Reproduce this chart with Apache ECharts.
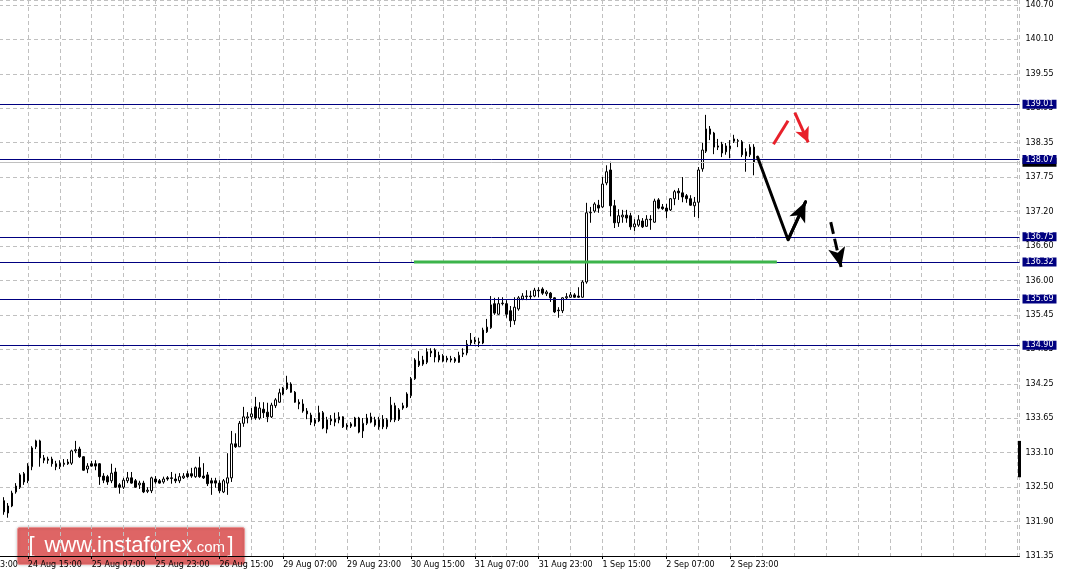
<!DOCTYPE html>
<html><head><meta charset="utf-8">
<script src="https://cdn.jsdelivr.net/npm/echarts@6/dist/echarts.min.js"></script>
<style>html,body{margin:0;padding:0;background:#fff;overflow:hidden;width:1069px;height:578px;position:relative}#c{position:absolute;left:-39px;top:0;width:1108px;height:578px}</style>
</head><body><div id="c"></div>
<script>
// ---- data (H1 bars, index 0 = 23 Aug 23:00) ----
const firstBar = 10;
const opens = [
132.25,132.04,132.16,132.40,132.48,132.71,132.59,132.83,133.17,133.27,
132.98,132.96,132.96,132.88,132.83,132.87,132.91,132.89,133.10,133.13,
133.00,132.79,132.88,132.88,132.88,132.67,132.66,132.59,132.74,132.52,
132.48,132.59,132.64,132.59,132.52,132.55,132.41,132.42,132.62,132.59,
132.57,132.64,132.64,132.62,132.59,132.64,132.71,132.71,132.66,132.81,
132.67,132.69,132.59,132.59,132.55,132.40,132.55,132.64,133.22,133.17,
133.57,133.66,133.68,133.85,133.66,133.81,133.76,133.68,133.87,133.93,
134.07,134.16,134.24,134.10,133.93,133.90,133.78,133.71,133.57,133.61,
133.75,133.47,133.64,133.64,133.63,133.68,133.54,133.52,133.52,133.66,
133.44,133.57,133.59,133.63,133.63,133.64,133.51,133.63,133.87,133.64,
133.83,133.85,134.04,134.33,134.63,134.58,134.61,134.80,134.82,134.73,
134.72,134.68,134.67,134.67,134.61,134.75,134.77,134.94,134.99,134.96,
134.94,135.13,135.20,135.61,135.43,135.61,135.61,135.49,135.32,135.52,
135.69,135.73,135.74,135.74,135.84,135.86,135.78,135.79,135.71,135.50,
135.49,135.71,135.72,135.76,135.74,135.72,135.98,137.16,137.19,137.29,
137.26,137.67,137.89,137.28,136.99,137.09,137.12,137.11,136.92,136.95,
137.02,136.93,137.05,137.00,137.38,137.26,137.24,137.21,137.40,137.53,
137.50,137.45,137.40,137.28,137.34,137.91,138.21,138.59,138.52,138.30,
138.33,138.30,138.25,138.38,138.38,138.37,138.20,138.15,138.28];
const closes = [
132.06,132.16,132.38,132.50,132.69,132.57,132.84,133.15,133.27,132.98,
132.94,132.94,132.88,132.83,132.89,132.89,132.88,133.10,133.12,133.00,
132.77,132.84,132.84,132.84,132.66,132.60,132.57,132.72,132.48,132.48,
132.60,132.64,132.55,132.48,132.55,132.40,132.43,132.64,132.57,132.55,
132.62,132.62,132.63,132.59,132.66,132.67,132.66,132.67,132.81,132.66,
132.64,132.54,132.55,132.55,132.42,132.59,132.64,133.22,133.17,133.57,
133.68,133.68,133.73,133.66,133.83,133.75,133.68,133.88,133.97,134.09,
134.17,134.26,134.10,133.93,133.90,133.78,133.73,133.59,133.63,133.75,
133.49,133.63,133.61,133.59,133.68,133.51,133.51,133.56,133.66,133.42,
133.57,133.66,133.68,133.54,133.51,133.51,133.63,133.88,133.63,133.80,
133.87,134.07,134.33,134.65,134.56,134.65,134.79,134.77,134.70,134.65,
134.63,134.65,134.65,134.63,134.73,134.77,134.92,134.99,134.96,134.94,
135.16,135.21,135.59,135.45,135.61,135.62,135.43,135.32,135.55,135.71,
135.74,135.74,135.73,135.84,135.83,135.79,135.81,135.71,135.47,135.49,
135.71,135.73,135.76,135.72,135.72,135.98,137.16,137.17,137.31,137.24,
137.65,137.86,137.28,136.99,137.11,137.12,137.07,136.92,136.97,137.04,
136.92,137.05,137.04,137.36,137.24,137.23,137.19,137.40,137.52,137.50,
137.43,137.40,137.29,137.34,137.89,138.23,138.59,138.50,138.28,138.28,
138.18,138.20,138.30,138.42,138.39,138.15,138.13,138.28,138.02];
const lows = [
132.01,131.96,132.14,132.37,132.45,132.52,132.55,132.77,133.13,132.83,
132.89,132.88,132.83,132.77,132.79,132.83,132.86,132.86,133.06,132.98,
132.76,132.72,132.83,132.77,132.52,132.55,132.52,132.55,132.47,132.37,
132.45,132.55,132.54,132.47,132.45,132.38,132.38,132.38,132.54,132.54,
132.54,132.59,132.54,132.55,132.55,132.62,132.64,132.64,132.64,132.64,
132.62,132.50,132.35,132.47,132.38,132.38,132.35,132.57,133.15,133.17,
133.51,133.57,133.63,133.63,133.63,133.66,133.59,133.66,133.83,133.92,
134.05,134.14,134.09,133.92,133.81,133.75,133.64,133.54,133.52,133.59,
133.47,133.40,133.54,133.52,133.57,133.49,133.46,133.49,133.51,133.40,
133.32,133.54,133.57,133.51,133.46,133.47,133.47,133.59,133.59,133.61,
133.80,133.83,134.00,134.31,134.53,134.55,134.58,134.70,134.61,134.61,
134.61,134.61,134.61,134.60,134.60,134.70,134.73,134.90,134.92,134.87,
134.92,135.11,135.18,135.42,135.42,135.58,135.37,135.21,135.25,135.49,
135.67,135.67,135.69,135.72,135.72,135.76,135.74,135.64,135.45,135.37,
135.45,135.69,135.71,135.71,135.71,135.71,135.95,136.99,137.16,137.16,
137.24,137.63,137.10,136.90,136.92,136.99,136.99,136.87,136.85,136.92,
136.90,136.92,136.87,136.99,137.22,137.21,137.07,137.19,137.29,137.38,
137.34,137.33,137.28,137.09,137.07,137.86,138.18,138.40,138.16,138.23,
138.11,138.15,138.09,138.35,138.28,138.11,137.86,138.11,137.80];
const highs = [
132.31,132.21,132.42,132.55,132.72,132.74,132.89,133.18,133.29,133.29,
133.03,133.00,133.00,132.93,132.94,132.96,132.96,133.12,133.27,133.17,
133.01,132.89,132.93,132.94,132.89,132.72,132.69,132.88,132.81,132.55,
132.64,132.74,132.74,132.62,132.59,132.59,132.48,132.66,132.67,132.62,
132.66,132.67,132.74,132.71,132.72,132.72,132.76,132.81,132.83,133.00,
132.89,132.74,132.64,132.64,132.60,132.62,133.06,133.44,133.40,133.61,
133.85,133.76,133.83,134.02,133.93,133.93,133.92,133.92,134.00,134.16,
134.19,134.38,134.27,134.12,133.98,133.98,133.83,133.75,133.66,133.87,
133.78,133.68,133.71,133.75,133.76,133.69,133.57,133.59,133.68,133.68,
133.66,133.73,133.75,133.68,133.68,133.71,133.66,134.02,133.92,133.83,
133.92,134.10,134.36,134.68,134.80,134.72,134.85,134.85,134.85,134.79,
134.75,134.72,134.72,134.70,134.79,134.85,134.99,135.11,135.04,135.03,
135.20,135.35,135.74,135.71,135.72,135.72,135.67,135.57,135.72,135.74,
135.79,135.84,135.83,135.88,135.89,135.89,135.84,135.81,135.72,135.55,
135.72,135.79,135.81,135.79,135.89,136.01,137.33,137.26,137.34,137.38,
137.77,137.97,138.03,137.38,137.22,137.21,137.21,137.16,137.05,137.12,
137.07,137.12,137.12,137.40,137.41,137.31,137.31,137.41,137.55,137.58,
137.77,137.48,137.46,137.43,137.94,138.35,138.83,138.64,138.54,138.42,
138.37,138.35,138.40,138.49,138.42,138.40,138.26,138.33,138.33];

const xLabels = ['23 Aug 23:00','24 Aug 15:00','25 Aug 07:00','25 Aug 23:00','26 Aug 15:00',
  '29 Aug 07:00','29 Aug 23:00','30 Aug 15:00','31 Aug 07:00','31 Aug 23:00',
  '1 Sep 15:00','2 Sep 07:00','2 Sep 23:00'];
const barsPerLabel = 16;
const yLabels = ['131.35','131.90','132.50','133.10','133.65','134.25','134.85','135.45','136.00',
  '136.60','137.20','137.75','138.35','138.95','139.55','140.10','140.70'];
const yMin = 131.307, yMax = 140.789, yStep = 0.58734;
const xMax = 264.5;

const levels = [139.01, 138.07, 136.75, 136.32, 135.69, 134.90];
const bidPrice = 138.02;
const greenLevel = [[112.75, 136.32], [203.7, 136.32]];
const blackPath = [[198.85, 138.11], [206.5, 136.70], [210.9, 137.35]];
const blackDashed = [[217.2, 137.00], [219.8, 136.23]];
const redStroke = [[202.85, 138.33], [206.5, 138.73]];
const redArrow = [[208.2, 138.87], [211.55, 138.36]];
const axisMarker = [132.65, 133.27];

// ---- chart ----
const FONT = 'DejaVu Sans';
const candles = opens.map((o, k) => [firstBar + k, o, closes[k], lows[k], highs[k]]);
const xTicks = xLabels.map((_, k) => k * barsPerLabel);

const chart = echarts.init(document.getElementById('c'), null, {renderer: 'canvas'});
chart.setOption({
  animation: false,
  backgroundColor: '#ffffff',
  grid: {left: 0, right: 49.5, top: 0, bottom: 22},
  xAxis: [
    {type: 'value', min: 0, max: xMax, interval: 8,
     axisLine: {show: true, lineStyle: {color: '#000', width: 1}},
     axisTick: {show: false}, axisLabel: {show: false},
     splitLine: {show: true, lineStyle: {color: '#c0c0c0', width: 1, type: [4, 3]}}},
    {type: 'value', position: 'bottom', min: 0, max: xMax, interval: barsPerLabel,
     axisLine: {show: false},
     axisTick: {show: true, length: 3, lineStyle: {color: '#000'}, customValues: xTicks},
     axisLabel: {show: true, customValues: xTicks, align: 'left', margin: 5, color: '#000',
       fontFamily: FONT, fontSize: 8,
       formatter: v => { const k = Math.round(v / barsPerLabel); return (Math.abs(v - k * barsPerLabel) < 1e-6 && xLabels[k]) ? xLabels[k] : ''; }},
     splitLine: {show: false}}
  ],
  yAxis: {type: 'value', position: 'right', min: yMin, max: yMax, interval: yStep,
    axisLine: {show: true, lineStyle: {color: '#000', width: 1}},
    axisTick: {show: true, length: 3, lineStyle: {color: '#000'}},
    axisLabel: {color: '#000', margin: 6, fontFamily: FONT, fontSize: 8,
      formatter: v => { const k = Math.round((v - yMin) / yStep); return (Math.abs(v - (yMin + k * yStep)) < 1e-3 && yLabels[k]) ? yLabels[k] : ''; }},
    splitLine: {show: true, lineStyle: {color: '#c0c0c0', width: 1, type: [4, 3]}}},
  series: [
    {type: 'candlestick', name: 'USDJPY', z: 3,
     dimensions: ['bar', 'open', 'close', 'lowest', 'highest'],
     encode: {x: 'bar', y: ['open', 'close', 'lowest', 'highest']},
     data: candles, barWidth: 2,
     itemStyle: {color: '#ffffff', color0: '#000000', borderColor: '#000', borderColor0: '#000', borderColorDoji: '#000', borderWidth: 1}},
    {type: 'line', data: [], z: 4, silent: true,
     markLine: {silent: true, animation: false, symbol: ['none', 'none'],
       lineStyle: {color: '#c0c0c0', width: 1, type: 'solid'},
       label: {show: true, position: 'end', distance: 3, formatter: p => p.value.toFixed(2), color: '#fff', backgroundColor: '#000', padding: [1, 3, 0, 3], fontFamily: FONT, fontSize: 8},
       data: [{yAxis: bidPrice}]}},
    {type: 'line', data: [], z: 5, silent: true,
     markLine: {silent: true, animation: false, symbol: ['none', 'none'],
       lineStyle: {color: '#000080', width: 1, type: 'solid'},
       label: {show: true, position: 'end', distance: 3, formatter: p => p.value.toFixed(2), color: '#fff', backgroundColor: '#000080', padding: [1, 3, 0, 3], fontFamily: FONT, fontSize: 8},
       data: levels.map(v => ({yAxis: v}))}},
    {type: 'line', data: greenLevel, z: 6, silent: true, symbol: 'none',
     lineStyle: {color: '#3cb44b', width: 3}},
    {type: 'line', data: blackPath, z: 7, silent: true, symbol: 'none',
     lineStyle: {color: '#000', width: 3, cap: 'round', join: 'round'},
     markLine: {silent: true, animation: false, label: {show: false},
       lineStyle: {color: '#000', width: 3, type: 'solid'},
       data: [[{coord: blackPath[1], symbol: 'none'}, {coord: blackPath[2], symbol: 'arrow', symbolSize: [13, 20]}]]}},
    {type: 'line', data: [], z: 7, silent: true,
     markLine: {silent: true, animation: false, label: {show: false},
       lineStyle: {color: '#000', width: 3, type: [12, 5]},
       data: [[{coord: blackDashed[0], symbol: 'none'}, {coord: blackDashed[1], symbol: 'arrow', symbolSize: [13, 20]}]]}},
    {type: 'line', data: redStroke, z: 7, silent: true, symbol: 'none',
     lineStyle: {color: '#e8202a', width: 3}},
    {type: 'line', data: [], z: 7, silent: true,
     markLine: {silent: true, animation: false, label: {show: false},
       lineStyle: {color: '#e8202a', width: 3, type: 'solid'},
       data: [[{coord: redArrow[0], symbol: 'none'}, {coord: redArrow[1], symbol: 'arrow', symbolSize: [11, 15]}]]}},
    {type: 'line', data: axisMarker.map(v => [xMax, v]), z: 8, silent: true, symbol: 'none', clip: false,
     lineStyle: {color: '#000', width: 3}}
  ],
  graphic: [{
    type: 'group', left: 56, top: 527, z: 100, children: [
      {type: 'rect', shape: {x: 0, y: 0, width: 227, height: 37, r: 2},
       style: {fill: '#e05a5a', opacity: 0.9, stroke: '#ee9090', lineWidth: 1, shadowBlur: 3, shadowColor: 'rgba(0,0,0,0.25)'}},
      {type: 'text', x: 11, y: 18.5, style: {text: '[', fill: '#fff', font: '22px "Liberation Sans"', verticalAlign: 'middle'}},
      {type: 'text', x: 27, y: 18, style: {text: 'www.instaforex', fill: '#fff', font: '22px "Liberation Sans"', verticalAlign: 'middle'}},
      {type: 'text', x: 175, y: 20.5, style: {text: '.com', fill: '#fff', font: '15px "Liberation Sans"', verticalAlign: 'middle'}},
      {type: 'text', x: 210, y: 18.5, style: {text: ']', fill: '#fff', font: '22px "Liberation Sans"', verticalAlign: 'middle'}}
    ]
  }]
});
</script>
</body></html>
